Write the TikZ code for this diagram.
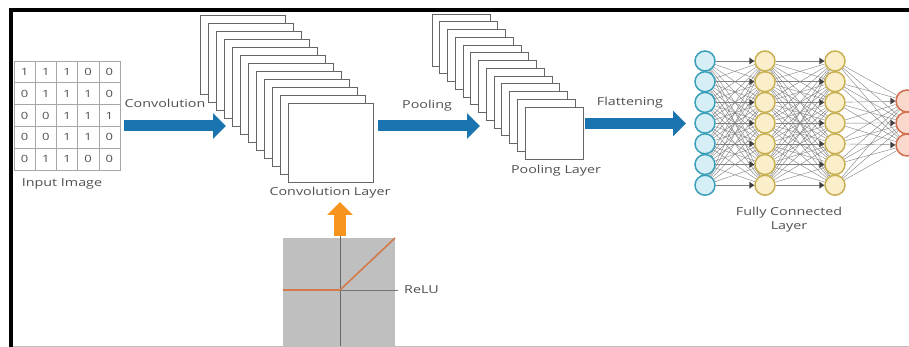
\documentclass[tikz,border=0pt]{standalone}
\usepackage{fontspec}
\setmainfont{Open Sans}
\newfontfamily\widesans[FakeStretch=1.3]{Open Sans}
\usetikzlibrary{arrows.meta,backgrounds}
\definecolor{txt}{HTML}{505050}
\definecolor{flow}{HTML}{1A74B0}
\definecolor{reluarrow}{HTML}{F7941D}
\definecolor{reluline}{HTML}{D27A4A}
\definecolor{inblue}{HTML}{3A9FB8}
\definecolor{inbluefill}{HTML}{D6EFF6}
\definecolor{hidy}{HTML}{C9B053}
\definecolor{hidyfill}{HTML}{FBEFCB}
\definecolor{outr}{HTML}{D0704F}
\definecolor{outrfill}{HTML}{FAD8CB}
\tikzset{
  lbl/.style={text=txt, font=\widesans\fontsize{11}{14}\selectfont, inner sep=0pt},
  digit/.style={text=txt, font=\widesans\fontsize{10}{12}\selectfont, inner sep=0pt},
  sq/.style={draw=black!60, fill=white, line width=0.9pt},
  flowarrow/.style={draw=flow, line width=11pt, -{Triangle[width=25pt,length=13pt]}},
  uparrow/.style={draw=reluarrow, line width=12pt, -{Triangle[width=25pt,length=13pt]}},
  neuron/.style={circle, minimum size=20pt, inner sep=0pt, line width=1.5pt},
  inn/.style={neuron, draw=inblue, fill=inbluefill},
  hid/.style={neuron, draw=hidy, fill=hidyfill},
  outn/.style={neuron, minimum size=22pt, draw=outr, fill=outrfill},
  link/.style={draw=black!50, line width=0.4pt},
  tip/.style={fill=black!75},
}
\begin{document}
\begin{tikzpicture}[x=1pt,y=-1pt]
\useasboundingbox (0,0) rectangle (909,347);
\clip (0,0) rectangle (909,347);
% input grid
\def\cw{21.2}\def\ch{21.8}
\foreach \r/\row in {0/{1,1,1,0,0},1/{0,1,1,1,0},2/{0,0,1,1,1},3/{0,0,1,1,0},4/{0,1,1,0,0}}{
  \foreach \d [count=\c from 0] in \row {
    \draw[black!35, line width=0.6pt] (14+\c*\cw,61+\r*\ch) rectangle ++(\cw,\ch);
    \node[digit] (g\r\c) at (14+\c*\cw+\cw/2,61+\r*\ch+\ch/2) {\d};
  }
}
\node[lbl] (inlbl) at (62,184) {Input Image};
% convolution arrow
\coordinate (ca1) at (124,126);
\coordinate (ca2) at (226,126);
\draw[flowarrow] (ca1) -- (ca2);
\node[lbl] (convlbl) at (165,103) {Convolution};
% conv stack
\foreach \i in {0,...,11}{
  \draw[sq] (200+8*\i,15+8*\i) rectangle ++(85,79);
}
\node[lbl] (convlayer) at (330,193) {Convolution Layer};
% pooling arrow
\coordinate (pa1) at (378,126);
\coordinate (pa2) at (480,126);
\draw[flowarrow] (pa1) -- (pa2);
\node[lbl] (poollbl) at (427,106) {Pooling};
% pooling stack
\foreach \i in {0,...,12}{
  \draw[sq] (432+7.75*\i,14+7.75*\i) rectangle ++(58,52);
}
\node[lbl] (poollayer) at (556,171) {Pooling Layer};
% flattening arrow
\coordinate (fa1) at (585,123.5);
\coordinate (fa2) at (686,123.5);
\draw[flowarrow] (fa1) -- (fa2);
\node[lbl] (flatlbl) at (630,103) {Flattening};
% ReLU
\fill[black!25] (283,238) rectangle (395,350);
\coordinate (ra1) at (340,236);
\coordinate (ra2) at (340,202);
\draw[uparrow] (ra1) -- (ra2);
\draw[black!60, line width=1pt] (340,236) -- (340,350);
\draw[black!55, line width=1pt] (283,290) -- (398,290);
\draw[reluline, line width=1.6pt] (283,290) -- (340,290) -- (395,238);
\node[lbl, anchor=west] (relu) at (404,290) {ReLU};
% network
\foreach \k in {0,...,6}{
  \node[inn] (a\k) at (705,61+20.7*\k) {};
  \node[hid] (b\k) at (765,61+20.7*\k) {};
  \node[hid] (c\k) at (835,61+20.7*\k) {};
}
\foreach \k in {0,1,2}{
  \node[outn] (d\k) at (907,101+22*\k) {};
}
\begin{pgfonlayer}{background}
\fill[white] (0,0) rectangle (909,347);
\foreach \i in {0,...,6}{
  \foreach \j in {0,...,6}{
    \draw[link] (a\i) -- (b\j);
    \draw[link] (b\i) -- (c\j);
  }
  \foreach \j in {0,1,2}{
    \draw[link] (c\i) -- (d\j);
  }
}
\end{pgfonlayer}
\foreach \k in {0,...,6}{
  \fill[tip] (b\k.west) -- ++(-5,-3.5) -- ++(0,7) -- cycle;
  \fill[tip] (c\k.west) -- ++(-5,-3.5) -- ++(0,7) -- cycle;
}
\foreach \k in {0,1,2}{
  \fill[tip] (d\k.west) -- ++(-5,-3.5) -- ++(0,7) -- cycle;
}
\node[lbl, align=center] (fclbl) at (789,220) {Fully Connected\\Layer};
% frame
\draw[black!25, line width=1pt] (13,346.5) -- (909,346.5);
\draw[black, line width=4pt] (11,347) -- (11,10.5) -- (909,10.5);
\end{tikzpicture}
\end{document}
